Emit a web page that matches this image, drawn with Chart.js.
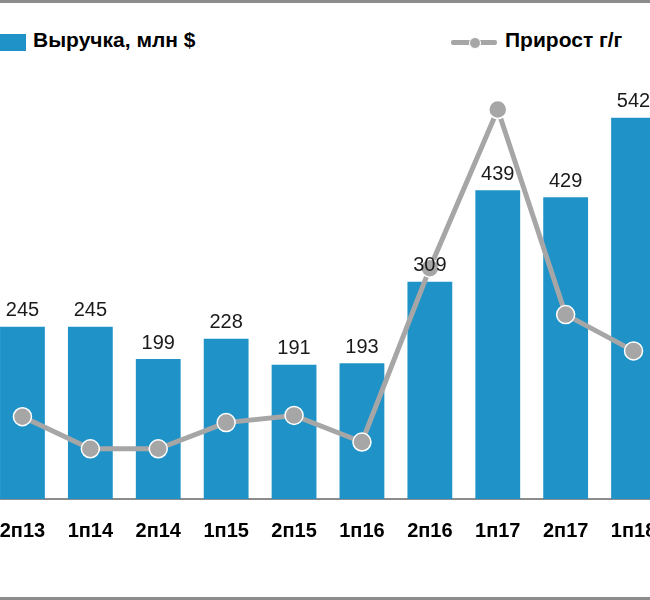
<!DOCTYPE html>
<html><head><meta charset="utf-8">
<script src="https://cdn.jsdelivr.net/npm/chart.js@4/dist/chart.umd.min.js"></script>
<style>
html,body{margin:0;padding:0;background:#fff;overflow:hidden;width:650px;height:600px;font-family:Arial,"Liberation Sans",sans-serif;}
#wrap{position:absolute;left:-22px;top:0;width:700px;height:600px;}
.frame{position:absolute;left:0;width:650px;height:3px;background:#8c8c8c;}
.leg{position:absolute;top:28px;font-weight:bold;font-size:21px;color:#000;}
</style></head><body>
<div class="frame" style="top:0"></div>
<div class="frame" style="top:597px"></div>
<div style="position:absolute;left:0;top:34px;width:26px;height:17px;background:#1f93c8"></div>
<div class="leg" style="left:33px">Выручка, млн $</div>
<div style="position:absolute;left:451px;top:40px;width:46px;height:5px;background:#a6a6a6;border-radius:2px"></div>
<div style="position:absolute;left:469px;top:37px;width:10px;height:10px;background:#a6a6a6;border-radius:50%;border:1px solid #fff"></div>
<div class="leg" style="left:505px">Прирост г/г</div>
<div id="wrap"><canvas id="c" width="700" height="600" style="width:700px;height:600px"></canvas></div>
<script>
const categories = ["2п13","1п14","2п14","1п15","2п15","1п16","2п16","1п17","2п17","1п18"];
const revenue = [245,245,199,228,191,193,309,439,429,542];
const growth = [19.5,11.9,11.9,18.1,19.8,13.5,54.7,92.3,43.7,35.1];

const labelPlugin = {
  id:'lbl',
  afterDatasetsDraw(chart){
    const ctx = chart.ctx;
    const meta = chart.getDatasetMeta(1);
    ctx.save();
    ctx.font = '20px Arial, "Liberation Sans"';
    ctx.fillStyle = '#1a1a1a';
    ctx.textAlign = 'center';
    ctx.textBaseline = 'bottom';
    meta.data.forEach((b,i)=>{ ctx.fillText(String(revenue[i]), b.x, b.y - 6); });
    ctx.restore();
  }
};

new Chart(document.getElementById('c'),{
  data:{
    labels:categories,
    datasets:[
      {type:'line',data:growth,yAxisID:'y2',borderColor:'#a6a6a6',borderWidth:5,
       pointRadius:9,pointBackgroundColor:'#a6a6a6',pointBorderColor:'#ffffff',pointBorderWidth:1.5,order:0},
      {type:'bar',data:revenue,yAxisID:'y',backgroundColor:'#1f93c8',categoryPercentage:1,barPercentage:0.66,order:1}
    ]
  },
  options:{
    responsive:false,animation:false,
    layout:{padding:{top:77,bottom:45,left:0,right:0}},
    plugins:{legend:{display:false},tooltip:{enabled:false}},
    scales:{
      x:{offset:true,grid:{display:false},border:{color:'#8c8c8c',width:2},
         ticks:{color:'#000',font:{family:'Arial',size:20,weight:'bold'},padding:12,maxRotation:0,autoSkip:false}},
      y:{display:false,min:0,max:600},
      y2:{display:false,min:0,max:100}
    }
  },
  plugins:[labelPlugin]
});
</script>
</body></html>
